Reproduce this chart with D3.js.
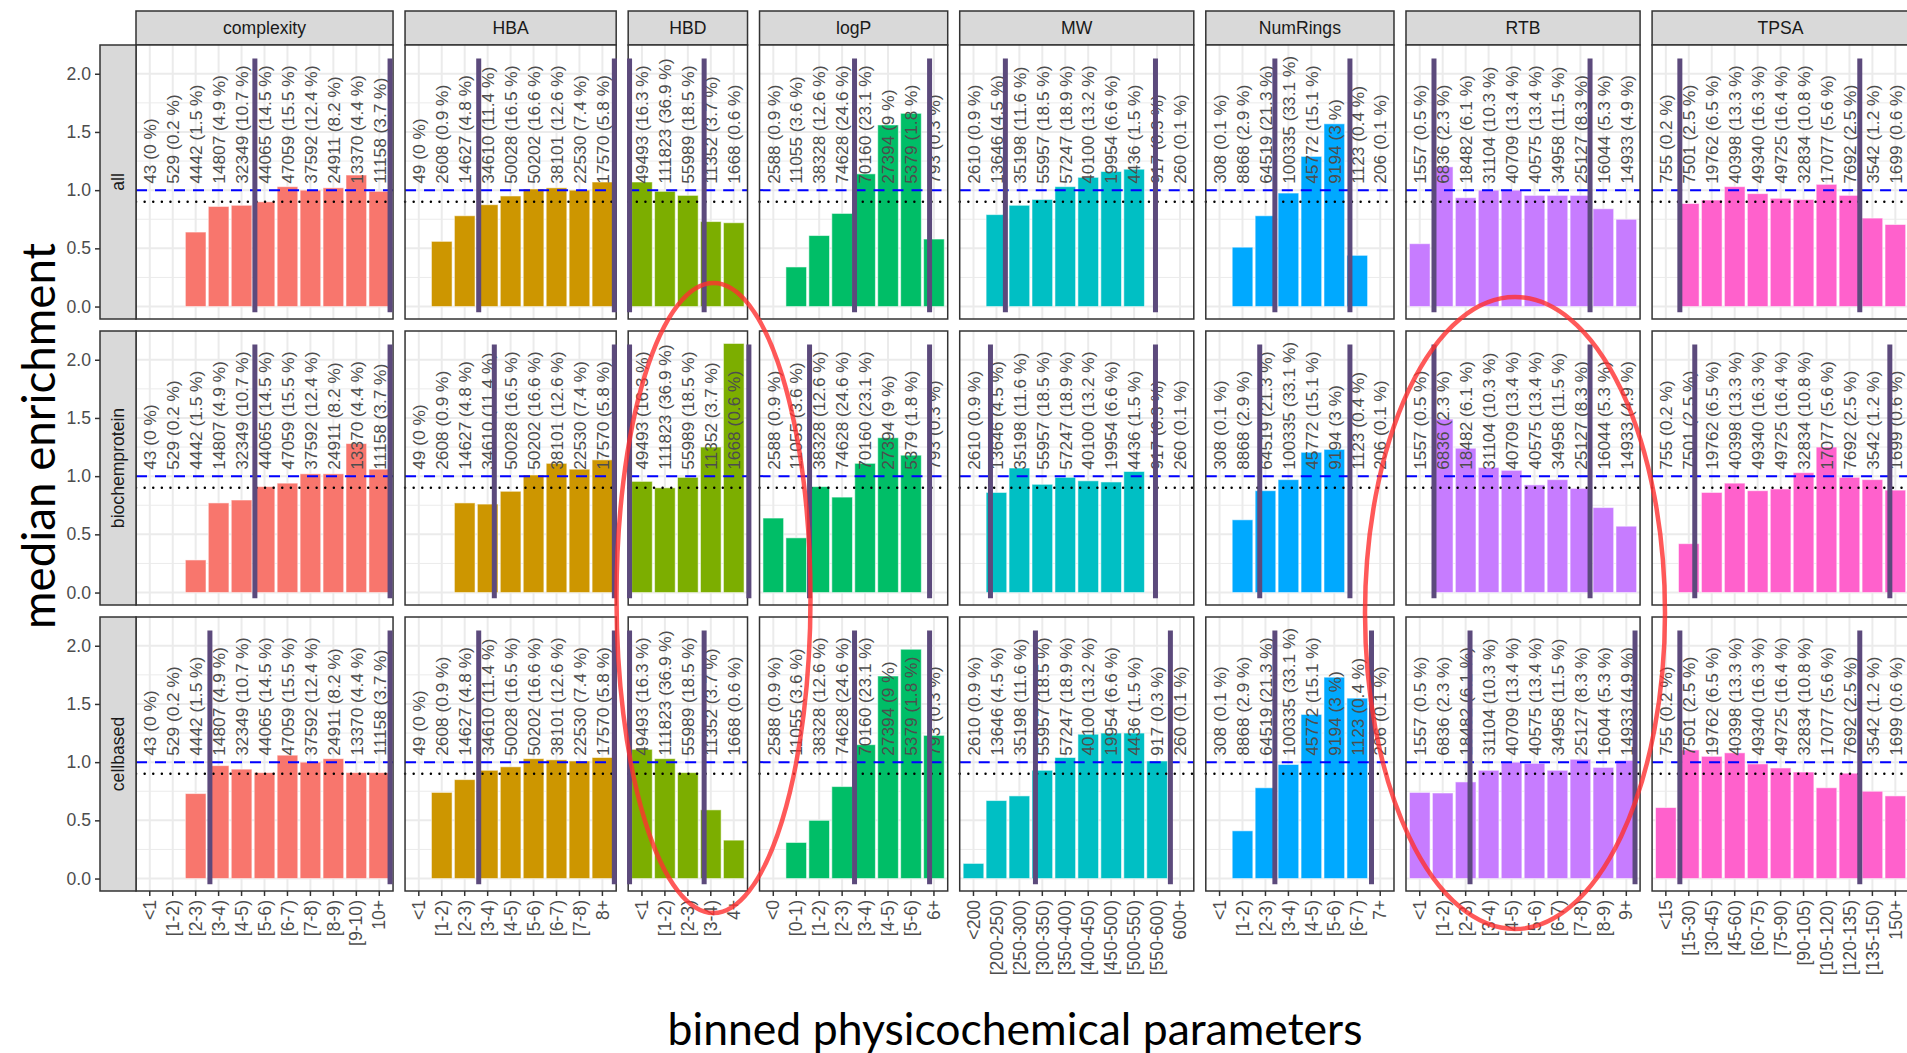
<!DOCTYPE html>
<html>
<head>
<meta charset="utf-8">
<script src="https://cdn.jsdelivr.net/npm/d3@7"></script>
<style>
  body { margin: 0; background: #fff; }
  text { font-family: "Liberation Sans", Arial, sans-serif; }
</style>
</head>
<body>
<svg id="chart" width="1907" height="1053"></svg>
<script>
// facets
const params = ["complexity", "HBA", "HBD", "logP", "MW", "NumRings", "RTB", "TPSA"];
const subsets = ["all", "biochemprotein", "cellbased"];
const colors = ["#F8766D", "#CD9600", "#7CAE00", "#00BE67", "#00BFC4", "#00A9FF", "#C77CFF", "#FF61CC"];
const yTicks = [0, 0.5, 1, 1.5, 2];

// complexity
const complexityBins = ["<1", "[1-2)", "[2-3)", "[3-4)", "[4-5)", "[5-6)", "[6-7)", "[7-8)", "[8-9)", "[9-10)", "10+"];
const complexityN = [43, 529, 4442, 14807, 32349, 44065, 47059, 37592, 24911, 13370, 11158];
const complexityPct = ["0", "0.2", "1.5", "4.9", "10.7", "14.5", "15.5", "12.4", "8.2", "4.4", "3.7"];
const complexityAll = [null, null, 0.64, 0.86, 0.87, 0.90, 1.03, 1.00, 1.02, 1.13, 0.99];
const complexityBiochem = [null, null, 0.28, 0.77, 0.795, 0.91, 0.94, 1.02, 1.02, 1.28, 1.06];
const complexityCell = [null, null, 0.73, 0.97, 0.94, 0.91, 1.06, 1.00, 1.03, 0.91, 0.91];
const complexityCuts = [[4.58, 10.47], [4.58, 10.47], [2.62, 10.47]];

// HBA
const hbaBins = ["<1", "[1-2)", "[2-3)", "[3-4)", "[4-5)", "[5-6)", "[6-7)", "[7-8)", "8+"];
const hbaN = [49, 2608, 14627, 34610, 50028, 50202, 38101, 22530, 17570];
const hbaPct = ["0", "0.9", "4.8", "11.4", "16.5", "16.6", "12.6", "7.4", "5.8"];
const hbaAll = [null, 0.56, 0.78, 0.875, 0.95, 1.01, 1.02, 1.00, 1.07];
const hbaBiochem = [null, null, 0.77, 0.76, 0.87, 1.01, 1.11, 1.06, 1.14];
const hbaCell = [null, 0.74, 0.85, 0.93, 0.96, 1.03, 1.02, 1.01, 1.04];
const hbaCuts = [[2.61, 8.52], [3.29, 8.52], [2.61, 8.52]];

// HBD
const hbdBins = ["<1", "[1-2)", "[2-3)", "[3-4)", "4+"];
const hbdN = [49493, 111823, 55989, 11352, 1668];
const hbdPct = ["16.3", "36.9", "18.5", "3.7", "0.6"];
const hbdAll = [1.07, 0.99, 0.955, 0.73, 0.72];
const hbdBiochem = [0.955, 0.90, 0.99, 1.25, 2.14];
const hbdCell = [1.11, 1.03, 0.91, 0.59, 0.33];
const hbdCuts = [[-0.54, 2.71], [-0.54, 4.66], [-0.54, 2.71]];

// logP
const logpBins = ["<0", "[0-1)", "[1-2)", "[2-3)", "[3-4)", "[4-5)", "[5-6)", "6+"];
const logpN = [2588, 11055, 38328, 74628, 70160, 27394, 5379, 793];
const logpPct = ["0.9", "3.6", "12.6", "24.6", "23.1", "9", "1.8", "0.3"];
const logpAll = [null, 0.34, 0.61, 0.80, 1.14, 1.56, 1.66, 0.58];
const logpBiochem = [0.64, 0.47, 0.91, 0.82, 1.11, 1.33, 1.18, null];
const logpCell = [null, 0.31, 0.50, 0.79, 1.15, 1.74, 1.97, 1.23];
const logpCuts = [[3.54, 6.81], [1.58, 6.81], [3.54, 6.81]];

// MW
const mwBins = ["<200", "[200-250)", "[250-300)", "[300-350)", "[350-400)", "[400-450)", "[450-500)", "[500-550)", "[550-600)", "600+"];
const mwN = [2610, 13646, 35198, 55957, 57247, 40100, 19954, 4436, 917, 260];
const mwPct = ["0.9", "4.5", "11.6", "18.5", "18.9", "13.2", "6.6", "1.5", "0.3", "0.1"];
const mwAll = [null, 0.79, 0.87, 0.92, 1.03, 1.11, 1.16, 1.18, null, null];
const mwBiochem = [null, 0.86, 1.07, 0.93, 0.99, 0.96, 0.95, 1.04, null, null];
const mwCell = [0.13, 0.67, 0.71, 0.93, 1.04, 1.24, 1.25, 1.25, 1.01, null];
const mwCuts = [[1.39, 7.93], [0.74, 7.93], [2.70, 8.58]];

// NumRings
const ringsBins = ["<1", "[1-2)", "[2-3)", "[3-4)", "[4-5)", "[5-6)", "[6-7)", "7+"];
const ringsN = [308, 8868, 64519, 100335, 45772, 9194, 1123, 206];
const ringsPct = ["0.1", "2.9", "21.3", "33.1", "15.1", "3", "0.4", "0.1"];
const ringsAll = [null, 0.51, 0.78, 0.975, 1.29, 1.57, 0.44, null];
const ringsBiochem = [null, 0.625, 0.875, 0.97, 1.205, 1.23, null, null];
const ringsCell = [null, 0.41, 0.78, 0.98, 1.41, 1.73, 1.55, null];
const ringsCuts = [[2.41, 5.68], [1.75, 5.68], [2.41, 6.62]];

// RTB
const rtbBins = ["<1", "[1-2)", "[2-3)", "[3-4)", "[4-5)", "[5-6)", "[6-7)", "[7-8)", "[8-9)", "9+"];
const rtbN = [1557, 6836, 18482, 31104, 40709, 40575, 34958, 25127, 16044, 14933];
const rtbPct = ["0.5", "2.3", "6.1", "10.3", "13.4", "13.4", "11.5", "8.3", "5.3", "4.9"];
const rtbAll = [0.54, 1.20, 0.935, 1.00, 1.00, 0.955, 0.955, 0.955, 0.84, 0.75];
const rtbBiochem = [null, 1.49, 1.24, 1.075, 1.05, 0.925, 0.97, 0.895, 0.73, 0.57];
const rtbCell = [0.74, 0.735, 0.83, 0.93, 1.00, 0.99, 0.93, 1.025, 0.955, 1.015];
const rtbCuts = [[0.62, 7.42], [0.62, 7.42], [2.19, 9.38]];

// TPSA
const tpsaBins = ["<15", "[15-30)", "[30-45)", "[45-60)", "[60-75)", "[75-90)", "[90-105)", "[105-120)", "[120-135)", "[135-150)", "150+"];
const tpsaN = [755, 7501, 19762, 40398, 49340, 49725, 32834, 17077, 7692, 3542, 1699];
const tpsaPct = ["0.2", "2.5", "6.5", "13.3", "16.3", "16.4", "10.8", "5.6", "2.5", "1.2", "0.6"];
const tpsaAll = [null, 0.885, 0.915, 1.03, 0.97, 0.93, 0.92, 1.05, 0.955, 0.76, 0.705];
const tpsaBiochem = [null, 0.42, 0.86, 0.94, 0.875, 0.89, 1.03, 1.25, 0.99, 0.97, 0.88];
const tpsaCell = [0.61, 1.105, 1.05, 1.08, 0.985, 0.95, 0.915, 0.78, 0.905, 0.75, 0.71];
const tpsaCuts = [[0.61, 8.45], [1.26, 9.76], [0.61, 8.45]];

const panels = [
  { bins: complexityBins, n: complexityN, pct: complexityPct, rows: [complexityAll, complexityBiochem, complexityCell], cuts: complexityCuts },
  { bins: hbaBins, n: hbaN, pct: hbaPct, rows: [hbaAll, hbaBiochem, hbaCell], cuts: hbaCuts },
  { bins: hbdBins, n: hbdN, pct: hbdPct, rows: [hbdAll, hbdBiochem, hbdCell], cuts: hbdCuts },
  { bins: logpBins, n: logpN, pct: logpPct, rows: [logpAll, logpBiochem, logpCell], cuts: logpCuts },
  { bins: mwBins, n: mwN, pct: mwPct, rows: [mwAll, mwBiochem, mwCell], cuts: mwCuts },
  { bins: ringsBins, n: ringsN, pct: ringsPct, rows: [ringsAll, ringsBiochem, ringsCell], cuts: ringsCuts },
  { bins: rtbBins, n: rtbN, pct: rtbPct, rows: [rtbAll, rtbBiochem, rtbCell], cuts: rtbCuts },
  { bins: tpsaBins, n: tpsaN, pct: tpsaPct, rows: [tpsaAll, tpsaBiochem, tpsaCell], cuts: tpsaCuts }
];

// layout
const unit = 22.95;         // px per category
const panelGap = 12;
const left0 = 136;
const stripTop = 11, stripH = 34;
const rowTop = 45, rowH = 274, rowGap = 12;
const rowStripW = 36;
const purple = "#5C4A7C";
const gridCol = "#EBEBEB";
const borderCol = "#333333";

const svg = d3.select("#chart");

// y scale with ggplot style 5% expansion
const yMax = d3.max(panels, p => d3.max(p.rows.flat()));
const yPad = yMax * 0.05;
const y = d3.scaleLinear().domain([-yPad, yMax + yPad]).range([rowH, 0]);

const layer = svg.append("g");
let px = left0;

panels.forEach((p, pi) => {
  const w = (p.bins.length + 0.2) * unit;
  const x = d3.scaleBand().domain(p.bins).range([0, w]).paddingInner(0.1).paddingOuter(0.15);
  const xl = d3.scaleLinear().domain([-0.6, p.bins.length - 0.4]).range([0, w]);

  // top strip
  const strip = layer.append("g").attr("transform", `translate(${px},${stripTop})`);
  strip.append("rect").attr("width", w).attr("height", stripH)
    .attr("fill", "#D9D9D9").attr("stroke", borderCol).attr("stroke-width", 1.5);
  strip.append("text").attr("x", w / 2).attr("y", stripH / 2).attr("dy", "0.35em")
    .attr("text-anchor", "middle").style("font-size", "17.6px").attr("fill", "#1A1A1A")
    .text(params[pi]);

  p.rows.forEach((vals, ri) => {
    const top = rowTop + ri * (rowH + rowGap);
    const g = layer.append("g").attr("transform", `translate(${px},${top})`);

    g.append("rect").attr("width", w).attr("height", rowH).attr("fill", "#fff");

    // grid
    const minor = [0.25, 0.75, 1.25, 1.75];
    g.selectAll("line.minor").data(minor).enter().append("line")
      .attr("x1", 0).attr("x2", w).attr("y1", d => y(d)).attr("y2", d => y(d))
      .attr("stroke", gridCol).attr("stroke-width", 1);
    g.selectAll("line.majory").data(yTicks).enter().append("line")
      .attr("x1", 0).attr("x2", w).attr("y1", d => y(d)).attr("y2", d => y(d))
      .attr("stroke", gridCol).attr("stroke-width", 2);
    g.selectAll("line.majorx").data(p.bins).enter().append("line")
      .attr("x1", d => x(d) + x.bandwidth() / 2).attr("x2", d => x(d) + x.bandwidth() / 2)
      .attr("y1", 0).attr("y2", rowH)
      .attr("stroke", gridCol).attr("stroke-width", 2);

    // bars
    const barData = p.bins.map((b, i) => ({ b, v: vals[i] })).filter(d => d.v != null);
    g.selectAll("rect.bar").data(barData).enter().append("rect")
      .attr("x", d => x(d.b)).attr("width", x.bandwidth())
      .attr("y", d => y(d.v)).attr("height", d => y(0) - y(d.v))
      .attr("fill", colors[pi])
      .attr("stroke", "#fff").attr("stroke-opacity", 0.55).attr("stroke-width", 1);

    // reference lines
    g.append("line").attr("x1", 0).attr("x2", w).attr("y1", y(1)).attr("y2", y(1))
      .attr("stroke", "#0000FF").attr("stroke-width", 2).attr("stroke-dasharray", "11,8");
    g.append("line").attr("x1", 0).attr("x2", w).attr("y1", y(0.9)).attr("y2", y(0.9))
      .attr("stroke", "#000").attr("stroke-width", 2.4).attr("stroke-dasharray", "0.1,8.5")
      .attr("stroke-linecap", "round");

    // count labels
    g.selectAll("text.lab").data(p.bins).enter().append("text")
      .attr("transform", d => `translate(${x(d) + x.bandwidth() / 2},${y(1.055)}) rotate(-90)`)
      .attr("dy", "0.36em")
      .style("font-size", "17.3px").attr("fill", "#4D4D4D")
      .text((d, i) => `${p.n[i]} (${p.pct[i]} %)`);

    // panel border
    g.append("rect").attr("width", w).attr("height", rowH)
      .attr("fill", "none").attr("stroke", borderCol).attr("stroke-width", 1.5);

    // cut-off lines
    g.selectAll("line.cut").data(p.cuts[ri]).enter().append("line")
      .attr("x1", d => xl(d)).attr("x2", d => xl(d))
      .attr("y1", y(2.13)).attr("y2", y(-0.05))
      .attr("stroke", purple).attr("stroke-width", 5);

    // row strip + y axis on the first column
    if (pi === 0) {
      const rs = layer.append("g").attr("transform", `translate(${px - rowStripW},${top})`);
      rs.append("rect").attr("width", rowStripW).attr("height", rowH)
        .attr("fill", "#D9D9D9").attr("stroke", borderCol).attr("stroke-width", 1.5);
      rs.append("text")
        .attr("transform", `translate(${rowStripW / 2},${rowH / 2}) rotate(-90)`)
        .attr("dy", "0.35em").attr("text-anchor", "middle")
        .style("font-size", "17.6px").attr("fill", "#1A1A1A")
        .text(subsets[ri]);

      const ax = layer.append("g").attr("transform", `translate(${px - rowStripW},${top})`)
        .call(d3.axisLeft(y).tickValues(yTicks).tickFormat(d3.format(".1f")).tickSize(5).tickPadding(4));
      ax.select(".domain").remove();
      ax.selectAll("line").attr("stroke", borderCol).attr("stroke-width", 1.5);
      ax.selectAll("text").style("font-size", "17.6px").attr("fill", "#4D4D4D");
    }

    // x axis on bottom row
    if (ri === p.rows.length - 1) {
      const ax = layer.append("g").attr("transform", `translate(${px},${top + rowH})`)
        .call(d3.axisBottom(x).tickSize(5).tickPadding(3));
      ax.select(".domain").remove();
      ax.selectAll("line").attr("stroke", borderCol).attr("stroke-width", 1.5);
      ax.selectAll("text")
        .attr("y", 0).attr("x", -9).attr("dy", "0.35em")
        .attr("transform", "rotate(-90)")
        .style("text-anchor", "end")
        .style("font-size", "17.6px").attr("fill", "#4D4D4D");
    }
  });

  px += w + panelGap;
});

// axis titles, fitted to the widths seen in the figure
function fitText(sel, target) {
  const len = sel.node().getComputedTextLength();
  const fs = parseFloat(sel.style("font-size"));
  sel.style("font-size", (fs * target / len) + "px");
}

const yTitle = svg.append("text")
  .attr("transform", "translate(55,436) rotate(-90)")
  .attr("text-anchor", "middle")
  .style("font-family", "Lato, 'Open Sans', sans-serif").style("font-size", "44px")
  .attr("fill", "#000").text("median enrichment");
fitText(yTitle, 386);

const xTitle = svg.append("text")
  .attr("x", 1015).attr("y", 1045)
  .attr("text-anchor", "middle")
  .style("font-family", "Lato, 'Open Sans', sans-serif").style("font-size", "38px")
  .attr("fill", "#000").text("binned physicochemical parameters");
fitText(xTitle, 695);

// highlighted regions
const ellipses = [
  { cx: 713.5, cy: 598, rx: 97, ry: 315 },
  { cx: 1515, cy: 613, rx: 150, ry: 316 }
];
svg.selectAll("ellipse.hl").data(ellipses).enter().append("ellipse")
  .attr("cx", d => d.cx).attr("cy", d => d.cy).attr("rx", d => d.rx).attr("ry", d => d.ry)
  .attr("fill", "none").attr("stroke", "#FF3030").attr("stroke-opacity", 0.8)
  .attr("stroke-width", 4.5);
</script>
</body>
</html>
